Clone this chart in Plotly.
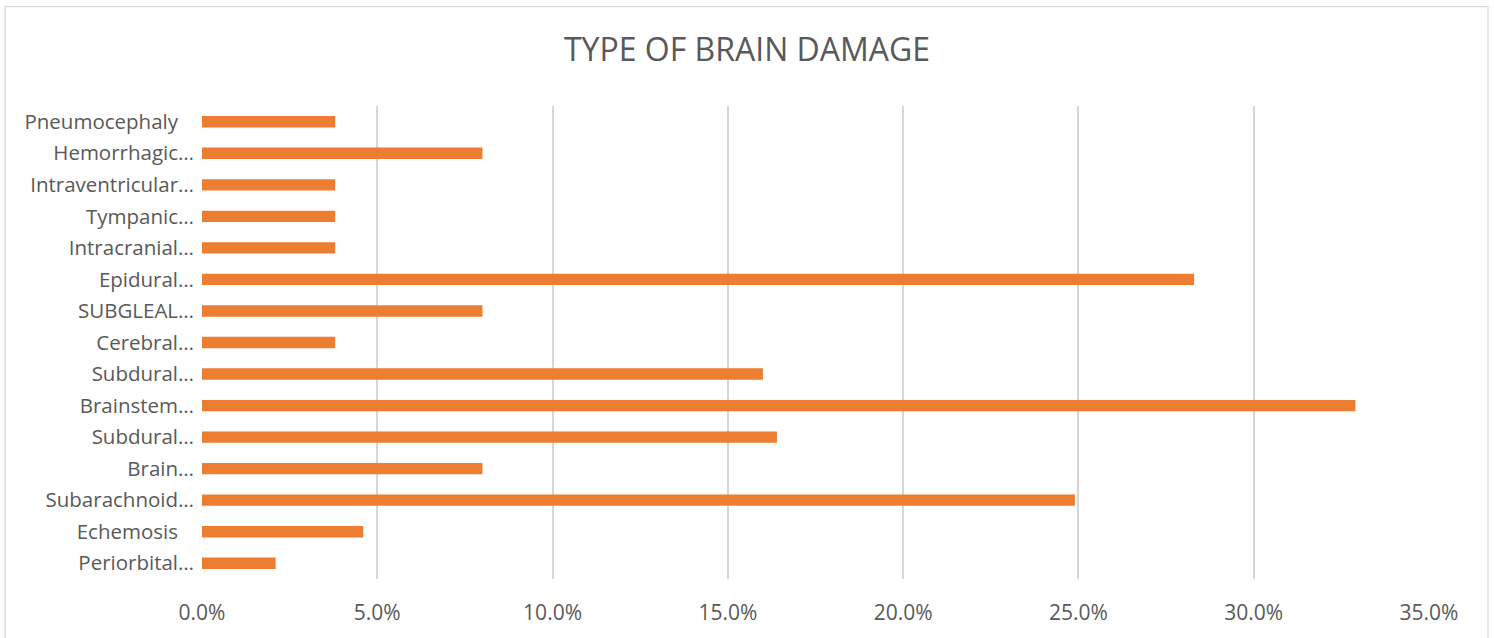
import plotly.graph_objects as go

# Categories listed bottom-to-top as drawn
categories = [
    "Periorbital…", "Echemosis\u00a0\u00a0\u00a0", "Subarachnoid…", "Brain…", "Subdural…",
    "Brainstem…", "Subdural…", "Cerebral…", "SUBGLEAL…", "Epidural…",
    "Intracranial…", "Tympanic…", "Intraventricular…", "Hemorrhagic…", "Pneumocephaly\u00a0\u00a0\u00a0",
]
values = [2.1, 4.6, 24.9, 8.0, 16.4, 32.9, 16.0, 3.8, 8.0, 28.3, 3.8, 3.8, 3.8, 8.0, 3.8]
x_ticks = [0, 5, 10, 15, 20, 25, 30, 35]
x_tick_labels = ["0.0%", "5.0%", "10.0%", "15.0%", "20.0%", "25.0%", "30.0%", "35.0%"]

positions = list(range(len(categories)))

TEXT = "#595959"
FONT = "Open Sans"

fig = go.Figure(
    go.Bar(
        x=values,
        y=positions,
        orientation="h",
        width=0.36,
        marker=dict(color="#ED7D31", line=dict(width=0)),
        hoverinfo="x+text",
        hovertext=categories,
    )
)

fig.update_layout(
    width=1494,
    height=638,
    paper_bgcolor="white",
    plot_bgcolor="white",
    margin=dict(l=202, r=65, t=106, b=56),
    showlegend=False,
    title=dict(
        text="TYPE OF BRAIN DAMAGE",
        x=0.5,
        xref="container",
        xanchor="center",
        y=1 - 50 / 638,
        yanchor="middle",
        font=dict(family=FONT, size=32, color=TEXT),
    ),
    xaxis=dict(
        range=[0, 35],
        tickvals=x_ticks,
        ticktext=x_tick_labels,
        showgrid=True,
        gridcolor="#d6d6d6",
        gridwidth=1.5,
        zeroline=False,
        showline=False,
        ticks="",
        ticklabelstandoff=19,
        tickfont=dict(family=FONT, size=21, color=TEXT),
    ),
    yaxis=dict(
        range=[-0.5, len(categories) - 0.5],
        tickvals=positions,
        ticktext=categories,
        showgrid=False,
        zeroline=False,
        showline=False,
        ticks="",
        ticklabelstandoff=7,
        tickfont=dict(family=FONT, size=20.5, color=TEXT),
    ),
    shapes=[
        dict(
            type="rect",
            xref="paper",
            yref="paper",
            x0=(5 - 202) / 1227,
            x1=(1488 - 202) / 1227,
            y0=(582 - 645) / 476,
            y1=(582 - 6) / 476,
            line=dict(color="#d9d9d9", width=1.3),
            fillcolor="rgba(0,0,0,0)",
            layer="below",
        )
    ],
)

fig.write_html("out.html")
